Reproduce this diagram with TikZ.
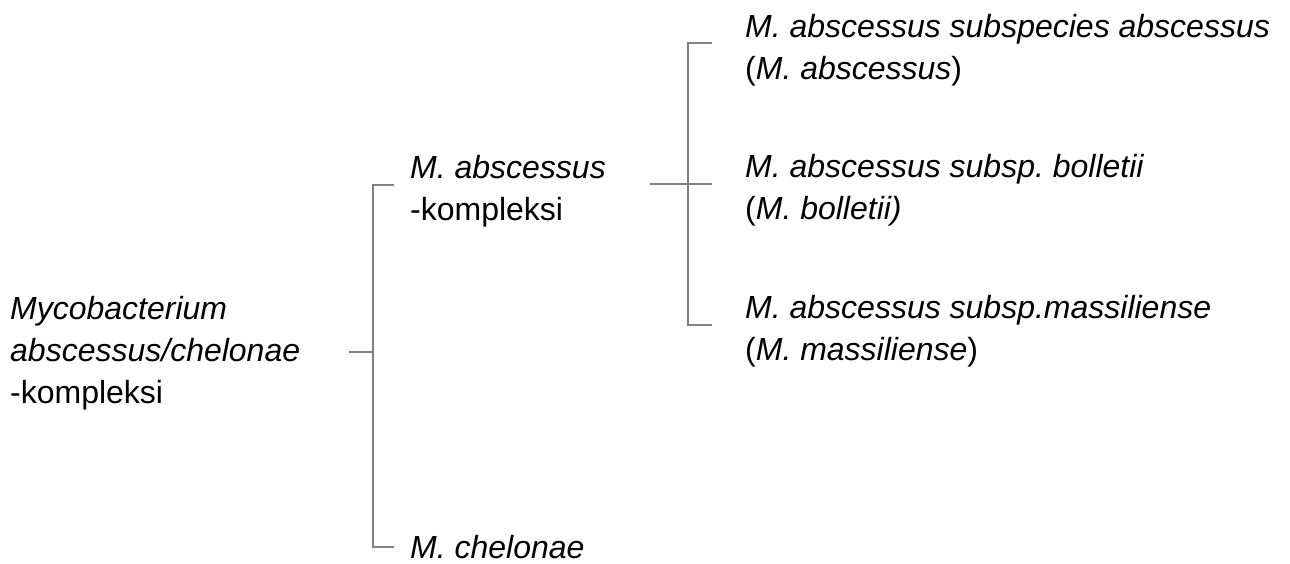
\documentclass[tikz,border=0pt]{standalone}
\usepackage{fontspec}
\setmainfont{Liberation Sans}
\usetikzlibrary{calc}

\begin{document}
\begin{tikzpicture}[x=1pt,y=-1pt,
    taxon/.style={anchor=west,inner sep=0pt,align=left,font=\fontsize{32}{42}\selectfont},
    branch/.style={draw=black!50,line width=1.6pt}]

% fix the page size
\useasboundingbox (0,0) rectangle (1290,563);

% place the taxa
\node[taxon] (root) at (10,353) {\textit{Mycobacterium}\\ \textit{abscessus/chelonae}\\ -kompleksi};
\node[taxon] (abs) at (410,191) {\textit{M. abscessus}\\ -kompleksi};
\node[taxon] (chel) at (410,547) {\textit{M. chelonae}};
\node[taxon] (ssa) at (745,50) {\textit{M. abscessus subspecies abscessus}\\ (\textit{M. abscessus})};
\node[taxon] (ssb) at (745,190) {\textit{M. abscessus subsp.\ bolletii}\\ (\textit{M. bolletii)}};
\node[taxon] (ssm) at (745,331) {\textit{M. abscessus subsp.massiliense}\\ (\textit{M. massiliense})};

% junctions of the brackets
\coordinate (jl) at (373,352);
\coordinate (jr) at (688,184);

% draw the left bracket
\draw[branch] ([xshift=-16pt,yshift=6pt]abs.west) -| (jl) |- ([xshift=-16pt]chel.west);
\draw[branch] ([xshift=49pt]root.east |- jl) -- (jl);

% draw the right bracket
\draw[branch] ([xshift=-33pt,yshift=7pt]ssa.west) -| (jr) |- ([xshift=-33pt,yshift=6pt]ssm.west);
\draw[branch] ([xshift=44pt]abs.east |- jr) -- ([xshift=-33pt]ssb.west |- jr);

\end{tikzpicture}
\end{document}
